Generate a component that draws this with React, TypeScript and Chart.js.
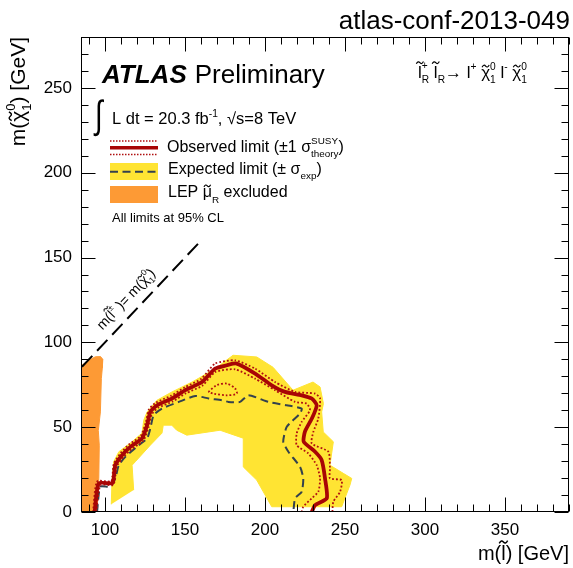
import { useEffect, useRef } from 'react';
import { Chart, registerables } from 'chart.js';
Chart.register(...registerables);

const FONT = "'Liberation Sans', Arial, Helvetica, sans-serif";

// axis
const X_MIN = 85.6;
const X_MAX = 390;
const Y_MIN = 0;
const Y_MAX = 280;
const X_TICKS = [100, 150, 200, 250, 300, 350];
const Y_TICKS = [0, 50, 100, 150, 200, 250];
const MINOR_STEP = 10;
const MAJOR_STEP = 50;

// expected limit +-1 sigma band (outline)
const BAND_X = [103.9, 104.4, 105.4, 108.6, 116.9, 123.1, 124.2, 126.3, 132.5, 141.9, 154.4, 168.9, 173.1, 180.0, 194.8, 205.0, 217.5, 230.0, 234.4, 236.5, 235.4, 236.4, 242.7, 240.6, 248.9, 254.2, 253.1, 247.9, 204.2, 194.8, 186.4, 186.4, 171.9, 151.1, 144.8, 141.7, 136.4, 135.6, 128.3, 118.9, 116.9, 117.9];
const BAND_Y = [4.5, 19.8, 29.6, 35.5, 41.4, 46.5, 54.1, 59.0, 65.9, 70.8, 76.6, 84.5, 87.5, 92.4, 91.4, 85.3, 71.8, 76.6, 73.7, 63.9, 59.0, 47.2, 41.4, 27.6, 22.8, 19.8, 15.9, 3.1, 3.1, 18.8, 26.6, 43.5, 48.2, 45.3, 48.2, 51.2, 51.2, 46.5, 39.4, 29.6, 27.6, 12.9];

// LEP excluded region
const LEP_X = [80, 80, 85.6, 90, 94, 97.2, 98.6, 98.3, 97.7, 97.1, 95.8, 96.4, 96.1, 95.0];
const LEP_Y = [0, 84, 86.5, 89.5, 91.5, 91.6, 90.0, 85.0, 78.6, 59.0, 48.0, 39.4, 19.8, 0];

// observed limit
const OBS_X = [93.5, 96.1, 104.4, 105.4, 106.4, 110.6, 115.8, 123.1, 126.3, 128.3, 132.5, 141.9, 150.2, 160.6, 168.8, 176.1, 182.3, 193.8, 204.2, 212.5, 222.9, 229.2, 232.3, 229.5, 225.0, 224.2, 231.3, 235.4, 237.5, 238.6, 231.3, 229.2];
const OBS_Y = [0, 16.9, 16.9, 19.8, 27.6, 33.5, 38.4, 43.4, 51.2, 59.0, 62.9, 66.9, 71.8, 76.6, 84.5, 86.5, 87.5, 81.6, 74.7, 70.8, 68.8, 66.9, 62.9, 55.5, 47.5, 41.4, 35.5, 30.6, 19.8, 8.1, 4.1, 0];

// observed +1 sigma theory
const OBS_UP_X = [92.5, 95.0, 103.8, 104.6, 105.5, 109.8, 115.0, 122.3, 125.4, 127.4, 131.8, 141.4, 150.0, 160.3, 168.8, 181.3, 193.8, 206.3, 218.8, 231.3, 234.4, 233.3, 230.2, 229.2, 239.6, 240.6, 240.6, 247.9, 246.9, 242.7, 242.1];
const OBS_UP_Y = [0, 18.0, 18.0, 21.0, 28.5, 34.8, 39.8, 44.8, 52.5, 60.5, 64.5, 68.6, 73.6, 78.6, 87.5, 89.4, 84.5, 76.6, 70.8, 69.8, 66.9, 55.1, 47.2, 40.4, 35.5, 25.7, 19.8, 18.8, 11.9, 6.1, 0];

// observed -1 sigma theory
const OBS_DN_X = [94.5, 97.2, 105.0, 106.2, 107.3, 111.4, 116.6, 123.9, 127.2, 129.2, 133.2, 142.4, 150.6, 161.0, 168.8, 181.3, 193.8, 206.3, 218.8, 226.1, 228.1, 222.9, 219.8, 219.8, 227.1, 232.3, 234.4, 233.3, 229.2, 223.9, 222.9];
const OBS_DN_Y = [0, 15.8, 15.8, 19.0, 26.8, 32.2, 37.1, 42.0, 50.0, 57.6, 61.4, 65.2, 70.0, 74.6, 82.5, 84.1, 78.6, 71.8, 64.9, 63.9, 60.0, 53.1, 46.3, 39.4, 34.5, 27.6, 19.8, 11.9, 8.1, 3.1, 0];

// small island of -1 sigma theory contour
const ISLAND_X = [164.6, 169.8, 176.1, 181.3, 182.3, 176.1, 167.7, 164.6];
const ISLAND_Y = [70.8, 74.7, 75.7, 72.8, 69.8, 68.8, 69.8, 70.8];

// expected limit
const EXP_X = [95.0, 97.1, 103.3, 106.4, 108.6, 112.7, 121.1, 126.3, 128.3, 130.4, 135.6, 146.1, 156.4, 164.8, 173.1, 177.1, 184.4, 189.6, 202.1, 213.6, 222.9, 221.9, 213.6, 211.4, 214.6, 221.9, 223.9, 222.9, 218.8, 217.7];
const EXP_Y = [0, 14.9, 14.9, 19.8, 27.6, 32.5, 39.4, 43.4, 49.2, 57.1, 61.0, 64.9, 68.4, 66.9, 65.9, 64.9, 64.9, 68.8, 64.9, 62.9, 61.0, 58.1, 50.2, 41.4, 35.5, 26.6, 19.8, 11.9, 8.1, 0];

// kinematic limit m(slepton) = m(chi)
const DIAG_X = [85.6, 160];
const DIAG_Y = [85.6, 160];

const C_YELLOW = '#FFE433';
const C_ORANGE = '#FD9A35';
const C_RED = '#A80505';
const C_DOT = '#B01010';
const C_EXP = '#34414D';

const pts = (xs: number[], ys: number[]) => xs.map((x, i) => ({ x, y: ys[i] }));

type Seg = { t: string; s?: number; dy?: number; tilde?: number; hold?: boolean; w?: string; st?: string };

function segFont(seg: Seg, size: number) {
  return `${seg.st ?? ''} ${seg.w ?? ''} ${size * (seg.s ?? 1)}px ${FONT}`;
}

function layoutRich(ctx: CanvasRenderingContext2D, segs: Seg[], size: number) {
  let x = 0;
  let held = 0;
  const items: { seg: Seg; x: number; w: number }[] = [];
  for (const seg of segs) {
    ctx.font = segFont(seg, size);
    const w = ctx.measureText(seg.t).width;
    items.push({ seg, x, w });
    if (seg.hold) held = Math.max(held, w);
    else {
      x += Math.max(w, held);
      held = 0;
    }
  }
  return { items, width: x };
}

function drawTilde(ctx: CanvasRenderingContext2D, cx: number, cy: number, w: number, lw: number, color: string) {
  const a = w * 0.16;
  ctx.save();
  ctx.strokeStyle = color;
  ctx.lineWidth = lw;
  ctx.setLineDash([]);
  ctx.beginPath();
  ctx.moveTo(cx - w / 2, cy + a);
  ctx.quadraticCurveTo(cx - w / 4, cy - a * 2, cx, cy);
  ctx.quadraticCurveTo(cx + w / 4, cy + a * 2, cx + w / 2, cy - a);
  ctx.stroke();
  ctx.restore();
}

function drawRich(ctx: CanvasRenderingContext2D, x: number, y: number, segs: Seg[], size: number, align: 'left' | 'right' | 'center' = 'left', color = '#000') {
  const { items, width } = layoutRich(ctx, segs, size);
  const x0 = align === 'right' ? x - width : align === 'center' ? x - width / 2 : x;
  ctx.fillStyle = color;
  ctx.textAlign = 'left';
  ctx.textBaseline = 'alphabetic';
  for (const it of items) {
    const fs = size * (it.seg.s ?? 1);
    ctx.font = segFont(it.seg, size);
    const yy = y + (it.seg.dy ?? 0) * size;
    ctx.fillText(it.seg.t, x0 + it.x, yy);
    if (it.seg.tilde) drawTilde(ctx, x0 + it.x + it.w / 2, yy - fs * it.seg.tilde, fs * 0.42, Math.max(1, fs * 0.07), color);
  }
  return width;
}

const TILDE_ASC = 0.9;
const TILDE_X = 0.7;

const overlay = {
  id: 'overlay',
  afterDraw(chart: any) {
    const ctx: CanvasRenderingContext2D = chart.ctx;
    const a = chart.chartArea;
    const xs = chart.scales.x;
    const ys = chart.scales.y;
    ctx.save();
    // frame
    ctx.strokeStyle = '#000';
    ctx.lineWidth = 1;
    ctx.setLineDash([]);
    const L = Math.round(a.left) - 0.5, R = Math.round(a.right) - 0.5, T = Math.round(a.top) + 0.5, B = Math.round(a.bottom) - 0.5;
    ctx.strokeRect(L, T, R - L, B - T);
    // inner ticks
    ctx.beginPath();
    for (let v = Math.ceil(xs.min / MINOR_STEP) * MINOR_STEP; v <= xs.max; v += MINOR_STEP) {
      const px = Math.round(xs.getPixelForValue(v)) + 0.5;
      const len = v % MAJOR_STEP === 0 ? 14 : 7;
      ctx.moveTo(px, B); ctx.lineTo(px, B - len);
      ctx.moveTo(px, T); ctx.lineTo(px, T + len);
    }
    for (let v = Math.ceil(ys.min / MINOR_STEP) * MINOR_STEP; v <= ys.max; v += MINOR_STEP) {
      const py = Math.round(ys.getPixelForValue(v)) + 0.5;
      const len = v % MAJOR_STEP === 0 ? 14 : 7;
      ctx.moveTo(L, py); ctx.lineTo(L + len, py);
      ctx.moveTo(R, py); ctx.lineTo(R - len, py);
    }
    ctx.stroke();

    // title
    drawRich(ctx, 570, 29, [{ t: 'atlas-conf-2013-049' }], 26, 'right');

    // axis titles
    drawRich(ctx, a.right, 560, [{ t: 'm(' }, { t: 'l', tilde: TILDE_ASC }, { t: ') [GeV]' }], 20, 'right');
    ctx.save();
    ctx.translate(25, a.top);
    ctx.rotate(-Math.PI / 2);
    drawRich(ctx, 0, 0, [{ t: 'm(' }, { t: 'χ', tilde: TILDE_X }, { t: '0', s: 0.62, dy: -0.5, hold: true }, { t: '1', s: 0.62, dy: 0.3 }, { t: ') [GeV]' }], 21, 'right');
    ctx.restore();

    // ATLAS label
    const wA = drawRich(ctx, 102, 83, [{ t: 'ATLAS', st: 'italic', w: 'bold' }], 26);
    drawRich(ctx, 102 + wA + 8, 83, [{ t: 'Preliminary' }], 26);

    // integral + lumi
    ctx.save();
    ctx.translate(95, 128);
    ctx.scale(1, 1.4);
    ctx.font = `28px ${FONT}`;
    ctx.fillStyle = '#000';
    ctx.fillText('∫', 0, 0);
    ctx.restore();
    drawRich(ctx, 112, 124, [{ t: 'L dt = 20.3 fb' }, { t: '-1', s: 0.62, dy: -0.45 }, { t: ', ' }, { t: '√s=8 TeV' }], 16.5);

    // process
    drawRich(ctx, 418, 78, [
      { t: 'l', tilde: TILDE_ASC }, { t: '+', s: 0.6, dy: -0.55, hold: true }, { t: 'R', s: 0.6, dy: 0.3 }, { t: ' ' },
      { t: 'l', tilde: TILDE_ASC }, { t: 'R', s: 0.6, dy: 0.3 },
      { t: '→ l' }, { t: '+', s: 0.6, dy: -0.45 }, { t: ' ' },
      { t: 'χ', tilde: TILDE_X }, { t: '0', s: 0.6, dy: -0.5, hold: true }, { t: '1', s: 0.6, dy: 0.3 },
      { t: ' l' }, { t: '-', s: 0.6, dy: -0.45 }, { t: ' ' },
      { t: 'χ', tilde: TILDE_X }, { t: '0', s: 0.6, dy: -0.5, hold: true }, { t: '1', s: 0.6, dy: 0.3 },
    ], 17);

    // legend symbols
    const lx0 = 110, lx1 = 158;
    ctx.fillStyle = C_YELLOW;
    ctx.fillRect(lx0, 163, lx1 - lx0, 17);
    ctx.fillStyle = C_ORANGE;
    ctx.fillRect(lx0, 186, lx1 - lx0, 17);
    const hline = (y: number, color: string, w: number, dash: number[]) => {
      ctx.strokeStyle = color; ctx.lineWidth = w; ctx.setLineDash(dash);
      ctx.beginPath(); ctx.moveTo(lx0, y); ctx.lineTo(lx1, y); ctx.stroke();
    };
    hline(147.7, C_RED, 3.5, []);
    hline(141, C_DOT, 1.5, [1.5, 1.5]);
    hline(154.5, C_DOT, 1.5, [1.5, 1.5]);
    hline(171.7, C_EXP, 2, [8, 4.5]);
    ctx.setLineDash([]);

    drawRich(ctx, 167, 152, [{ t: 'Observed limit (±1 σ' }, { t: 'SUSY', s: 0.62, dy: -0.5, hold: true }, { t: 'theory', s: 0.62, dy: 0.3 }, { t: ')' }], 16);
    drawRich(ctx, 168, 174, [{ t: 'Expected limit (± σ' }, { t: 'exp', s: 0.62, dy: 0.3 }, { t: ')' }], 16);
    drawRich(ctx, 168, 197, [{ t: 'LEP ' }, { t: 'μ', tilde: TILDE_X }, { t: 'R', s: 0.62, dy: 0.35 }, { t: ' excluded' }], 16);
    drawRich(ctx, 112, 222, [{ t: 'All limits at 95% CL' }], 13);

    // kinematic line label
    const p0x = xs.getPixelForValue(DIAG_X[0]), p0y = ys.getPixelForValue(DIAG_Y[0]);
    const p1x = xs.getPixelForValue(DIAG_X[1]), p1y = ys.getPixelForValue(DIAG_Y[1]);
    const ang = Math.atan2(p1y - p0y, p1x - p0x);
    const len = Math.hypot(p1x - p0x, p1y - p0y);
    const ux = (p1x - p0x) / len, uy = (p1y - p0y) / len;
    const nx = uy, ny = -ux; // normal pointing up-left
    const sx = xs.getPixelForValue(103), sy = ys.getPixelForValue(103);
    ctx.save();
    ctx.translate(sx + nx * 10, sy + ny * 10);
    ctx.rotate(ang);
    drawRich(ctx, 0, 0, [{ t: 'm(' }, { t: 'l', tilde: TILDE_ASC }, { t: '±', s: 0.6, dy: -0.5 }, { t: ' )= m(' }, { t: 'χ', tilde: TILDE_X }, { t: '0', s: 0.6, dy: -0.5, hold: true }, { t: '1', s: 0.6, dy: 0.3 }, { t: ')' }], 14);
    ctx.restore();

    ctx.restore();
  },
};

export default function App() {
  const ref = useRef<HTMLCanvasElement>(null);
  useEffect(() => {
    const chart = new Chart(ref.current!, {
      type: 'line',
      data: {
        datasets: [
          { label: 'diag', data: pts(DIAG_X, DIAG_Y), borderColor: '#000', borderWidth: 2, borderDash: [15, 7], pointRadius: 0, fill: false, order: 1 },
          { label: 'obs', data: pts(OBS_X, OBS_Y), borderColor: C_RED, borderWidth: 3.8, pointRadius: 0, fill: false, order: 2, tension: 0.2 },
          { label: 'obsUp', data: pts(OBS_UP_X, OBS_UP_Y), borderColor: C_DOT, borderWidth: 1.8, borderDash: [1.8, 2], pointRadius: 0, fill: false, order: 3, tension: 0.2 },
          { label: 'obsDn', data: pts(OBS_DN_X, OBS_DN_Y), borderColor: C_DOT, borderWidth: 1.8, borderDash: [1.8, 2], pointRadius: 0, fill: false, order: 3, tension: 0.2 },
          { label: 'island', data: pts(ISLAND_X, ISLAND_Y), borderColor: C_DOT, borderWidth: 1.8, borderDash: [1.8, 2], pointRadius: 0, fill: false, order: 3, tension: 0.3 },
          { label: 'exp', data: pts(EXP_X, EXP_Y), borderColor: C_EXP, borderWidth: 2, borderDash: [8, 4.5], pointRadius: 0, fill: false, order: 4, tension: 0.2 },
          { label: 'lep', data: pts(LEP_X, LEP_Y), borderColor: C_ORANGE, backgroundColor: C_ORANGE, borderWidth: 1, pointRadius: 0, fill: 'shape', order: 5 },
          { label: 'band', data: pts(BAND_X, BAND_Y), borderColor: C_YELLOW, backgroundColor: C_YELLOW, borderWidth: 1, pointRadius: 0, fill: 'shape', order: 6 },
        ],
      },
      options: {
        responsive: false,
        animation: false,
        devicePixelRatio: 1,
        layout: { padding: { top: 37, right: 4, left: 0, bottom: 0 } },
        elements: { line: { tension: 0 } },
        plugins: { legend: { display: false }, tooltip: { enabled: false }, title: { display: false } },
        events: [],
        scales: {
          x: {
            type: 'linear', min: X_MIN, max: X_MAX,
            afterBuildTicks: (s: any) => { s.ticks = X_TICKS.map((v) => ({ value: v })); },
            afterFit: (s: any) => { s.height = 56; },
            grid: { display: false, drawTicks: false },
            border: { display: false },
            ticks: { font: { family: FONT, size: 17 }, color: '#000', padding: 8, maxRotation: 0, autoSkip: false },
          },
          y: {
            type: 'linear', min: Y_MIN, max: Y_MAX,
            afterBuildTicks: (s: any) => { s.ticks = Y_TICKS.map((v) => ({ value: v })); },
            afterFit: (s: any) => { s.width = 82; },
            grid: { display: false, drawTicks: false },
            border: { display: false },
            ticks: { font: { family: FONT, size: 17 }, color: '#000', padding: 10, autoSkip: false },
          },
        },
      },
      plugins: [overlay],
    } as any);
    return () => chart.destroy();
  }, []);
  return (
    <div style={{ position: 'fixed', left: 0, top: 0, width: 573, height: 568, background: '#fff' }}>
      <canvas ref={ref} width={573} height={568} style={{ display: 'block' }} />
    </div>
  );
}
